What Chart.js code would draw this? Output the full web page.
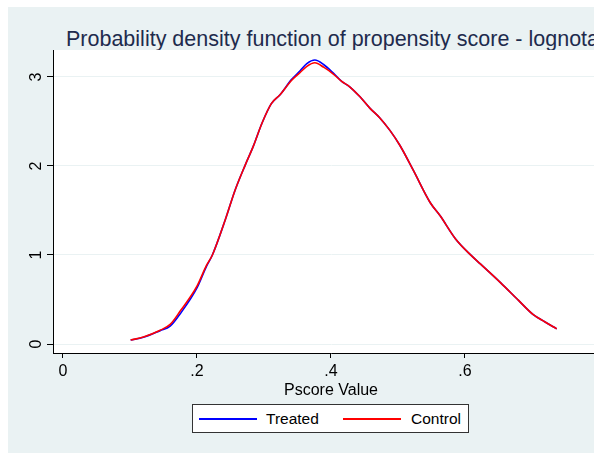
<!DOCTYPE html>
<html lang="en">
<head>
    <meta charset="UTF-8">
    <title>Propensity score density</title>
    <script src="https://cdn.jsdelivr.net/npm/chart.js"></script>
    <style>
        html, body { margin: 0; padding: 0; width: 594px; height: 453px; overflow: hidden; background: #fff; }
        body { font-family: "Liberation Sans", Arial, sans-serif; position: relative; }
        #bg { position: absolute; left: 8px; top: 7px; width: 640px; height: 446px; background: #EAF2F3; }
        #title { position: absolute; left: 66px; top: 29px; font-size: 21.5px; line-height: 21.5px; color: #1E2B4D; white-space: nowrap; }
        #wrap { position: absolute; left: 8px; top: 7px; width: 620px; height: 446px; }
        #legend { position: absolute; left: 192px; top: 404px; width: 275px; height: 27px; background: #fff; border: 1px solid #333; font-size: 15.5px; color: #000; }
        #legend .ln { position: absolute; top: 13px; width: 58px; height: 2px; }
        #legend .tx { position: absolute; top: 5px; line-height: 17px; }
    </style>
</head>
<body>
    <div id="bg"></div>
    <div id="title">Probability density function of propensity score - lognotax</div>
    <div id="wrap"><canvas id="chart"></canvas></div>
    <div id="legend">
        <div class="ln" style="left:6px;background:#0000FF"></div>
        <div class="tx" style="left:73px">Treated</div>
        <div class="ln" style="left:150px;background:#FF0000"></div>
        <div class="tx" style="left:218px">Control</div>
    </div>

    <script>
        // values
        const pscore = [0.101, 0.12, 0.145, 0.16, 0.175, 0.2, 0.214, 0.223, 0.242, 0.257, 0.272, 0.284, 0.297,
                        0.311, 0.324, 0.341, 0.354, 0.364, 0.376, 0.389, 0.404, 0.416, 0.428, 0.443, 0.458,
                        0.473, 0.488, 0.503, 0.523, 0.548, 0.563, 0.586, 0.61, 0.623, 0.653, 0.68, 0.702, 0.719, 0.737];
        const treated = [0.045, 0.075, 0.15, 0.2, 0.34, 0.63, 0.87, 1.0, 1.39, 1.73, 2.01, 2.22, 2.48,
                         2.70, 2.80, 2.97, 3.07, 3.15, 3.19, 3.14, 3.04, 2.95, 2.89, 2.78, 2.65,
                         2.54, 2.40, 2.23, 1.95, 1.59, 1.44, 1.18, 0.99, 0.90, 0.69, 0.49, 0.33, 0.25, 0.17];
        const control = [0.045, 0.078, 0.155, 0.22, 0.37, 0.65, 0.88, 1.0, 1.39, 1.73, 2.01, 2.22, 2.48,
                         2.70, 2.80, 2.96, 3.05, 3.12, 3.16, 3.11, 3.03, 2.95, 2.89, 2.78, 2.65,
                         2.54, 2.40, 2.23, 1.95, 1.59, 1.44, 1.18, 0.99, 0.90, 0.69, 0.49, 0.33, 0.25, 0.17];
        const xTicks = [0, 0.2, 0.4, 0.6];
        const yTicks = [0, 1, 2, 3];

        const toPoints = ys => pscore.map((x, i) => ({x: x, y: ys[i]}));

        // white plot region
        const plotBg = {
            id: 'plotBg',
            beforeDraw(chart) {
                const a = chart.chartArea;
                chart.ctx.save();
                chart.ctx.fillStyle = '#fff';
                chart.ctx.fillRect(a.left, a.top, a.right - a.left, a.bottom - a.top);
                chart.ctx.restore();
            }
        };

        const tickFont = {family: '"Liberation Sans", Arial, sans-serif', size: 16};

        new Chart(document.getElementById('chart'), {
            type: 'line',
            data: {
                datasets: [
                    {label: 'Control', data: toPoints(control), borderColor: '#FF0000', borderWidth: 1.6, order: 0},
                    {label: 'Treated', data: toPoints(treated), borderColor: '#0000FF', borderWidth: 1.6, order: 1}
                ]
            },
            options: {
                responsive: true,
                maintainAspectRatio: false,
                animation: false,
                layout: {padding: {left: 5, top: 43, right: 19, bottom: 50}},
                elements: {point: {radius: 0}, line: {cubicInterpolationMode: 'monotone', fill: false}},
                plugins: {legend: {display: false}, tooltip: {enabled: false}},
                scales: {
                    x: {
                        type: 'linear',
                        min: -0.0149,
                        max: 0.815,
                        afterBuildTicks: s => { s.ticks = xTicks.map(v => ({value: v})); },
                        afterFit: s => { s.height = 50; },
                        ticks: {
                            font: tickFont, color: '#000', padding: 4,
                            callback: v => v === 0 ? '0' : String(v).replace(/^0/, '')
                        },
                        grid: {drawOnChartArea: false, tickLength: 5, tickColor: '#000'},
                        border: {color: '#000', width: 1},
                        title: {display: true, text: 'Pscore Value', font: tickFont, color: '#000', padding: {top: 0, bottom: 3}}
                    },
                    y: {
                        type: 'linear',
                        min: -0.101,
                        max: 3.303,
                        afterBuildTicks: s => { s.ticks = yTicks.map(v => ({value: v})); },
                        afterFit: s => { s.width = 40; },
                        ticks: {font: tickFont, color: '#000', minRotation: 90, maxRotation: 90, crossAlign: 'center', padding: 6},
                        grid: {color: '#EAF2F3', lineWidth: 1, tickLength: 6, tickColor: '#000'},
                        border: {color: '#000', width: 1}
                    }
                }
            },
            plugins: [plotBg]
        });
    </script>
</body>
</html>
